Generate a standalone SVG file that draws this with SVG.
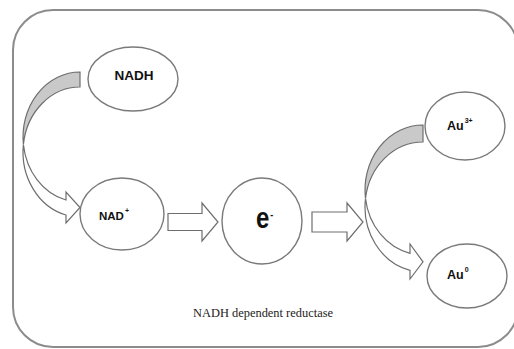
<svg xmlns="http://www.w3.org/2000/svg" width="514" height="349" viewBox="0 0 514 349">
  <style>
    .frame { fill: #ffffff; stroke: #8c8c8c; stroke-width: 2; }
    .node { fill: #ffffff; stroke: #7a7a7a; stroke-width: 1.4; }
    .arrow { fill: #ffffff; stroke: #6e6e6e; stroke-width: 1.2; stroke-linejoin: miter; }
    .back { fill: #c9c9c9; stroke: #6e6e6e; stroke-width: 1.2; }
    .lbl { font-family: "Liberation Sans", Arial, sans-serif; font-weight: bold; fill: #111111; }
    .sup { font-size: 7px; }
    .cap { font-family: "Liberation Serif", "Times New Roman", serif; fill: #222222; }
  </style>
  <rect x="0" y="0" width="514" height="349" fill="#ffffff"/>
  <rect class="frame" x="13" y="10" width="505" height="337" rx="40" ry="40"/>

  <g id="connectors">
    <!-- curved arrow NADH -> NAD+ -->
    <path class="back" d="M80,72 A57,65 0 0 0 23.4,144.5 A57,65 0 0 1 80,87 Z"/>
    <path class="arrow" d="M23.4,144.5 A57,65 0 0 0 66,215 L66,223 L80,207.5 L66,192 L66,200 A57,65 0 0 1 23.4,144.5 Z"/>
    <!-- NAD+ -> e- -->
    <path class="arrow" d="M168,213.5 H202 V203 L218,222 L202,241 V230.5 H168 Z"/>
    <!-- e- -> Au -->
    <path class="arrow" d="M312,212 H347 V203 L363,222 L347,241 V232 H312 Z"/>
    <!-- curved arrow Au3+ -> Au0 -->
    <path class="back" d="M423,125 A58,65 0 0 0 365.5,198.5 A58,65 0 0 1 423,142 Z"/>
    <path class="arrow" d="M365.5,198.5 A58,65 0 0 0 410,270.3 L410,279 L423,261.8 L410,244 L410,253.3 A58,65 0 0 1 365.5,198.5 Z"/>
  </g>

  <g id="nadh">
    <ellipse class="node" cx="133" cy="79" rx="45" ry="32"/>
    <text class="lbl" x="134" y="80" font-size="13.5" text-anchor="middle">NADH</text>
  </g>

  <g id="nadplus">
    <ellipse class="node" cx="122" cy="214" rx="42" ry="36"/>
    <text class="lbl" x="99" y="220" font-size="11.5">NAD<tspan class="sup" dx="1" dy="-7">+</tspan></text>
  </g>

  <g id="electron">
    <ellipse class="node" cx="262" cy="221" rx="40" ry="43"/>
    <text class="lbl" x="256" y="190" font-size="24" transform="scale(1,1.2)">e<tspan font-size="9" dx="1" dy="-8">-</tspan></text>
  </g>

  <g id="au3">
    <ellipse class="node" cx="465" cy="126" rx="40" ry="34"/>
    <text class="lbl" x="447" y="130" font-size="12.5">Au<tspan class="sup" dx="1" dy="-7">3+</tspan></text>
  </g>

  <g id="au0">
    <ellipse class="node" cx="467" cy="276" rx="40" ry="32"/>
    <text class="lbl" x="447" y="279" font-size="12.5">Au<tspan class="sup" dx="1" dy="-7">0</tspan></text>
  </g>

  <g id="caption">
    <text class="cap" x="193" y="317" font-size="12.5" textLength="140" lengthAdjust="spacingAndGlyphs">NADH dependent reductase</text>
  </g>
</svg>
